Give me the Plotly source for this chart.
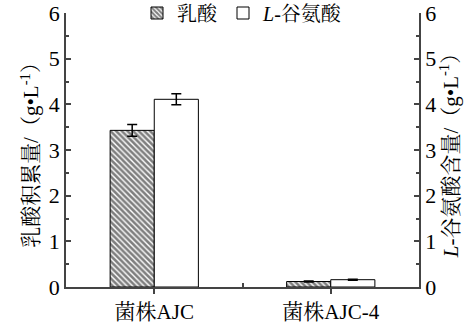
import plotly.graph_objects as go

categories = ["菌株AJC", "菌株AJC-4"]
lactic = [3.43, 0.12]
lactic_err = [0.13, 0.01]
glutamate = [4.11, 0.16]
glutamate_err = [0.12, 0.01]
y_ticks = [0, 1, 2, 3, 4, 5, 6]

FONT = "Liberation Serif, Noto Serif CJK SC, Noto Sans CJK SC, serif"
xpos = list(range(len(categories)))

fig = go.Figure()
fig.add_trace(go.Bar(
    x=xpos, y=lactic, name="乳酸", width=0.25, offset=-0.25,
    marker=dict(color="white", line=dict(color="black", width=1),
                pattern=dict(shape="\\", fgcolor="black", bgcolor="white",
                             size=4, solidity=0.65)),
    error_y=dict(type="data", array=lactic_err, color="black", thickness=1.5, width=5),
))
fig.add_trace(go.Bar(
    x=xpos, y=glutamate, name="<i>L</i>-谷氨酸", width=0.25, offset=0,
    marker=dict(color="white", line=dict(color="black", width=1)),
    error_y=dict(type="data", array=glutamate_err, color="black", thickness=1.5, width=5),
))
# invisible trace to activate the right axis
fig.add_trace(go.Scatter(x=xpos, y=glutamate, yaxis="y2", mode="markers",
                         marker=dict(opacity=0), showlegend=False, hoverinfo="skip"))

axis_common = dict(range=[0, 6], tickvals=y_ticks, ticks="inside", ticklen=5,
                   tickwidth=1.5, tickcolor="#444", showline=True, linecolor="#444",
                   linewidth=1.5, showgrid=False, zeroline=False, automargin=False,
                   tickfont=dict(family=FONT, size=22, color="black"),
                   minor=dict(dtick=0.5, ticks="inside", ticklen=3, tickcolor="#444", tickwidth=1.5))

fig.update_layout(
    width=476, height=332,
    margin=dict(l=66, r=57, t=13, b=45, autoexpand=False),
    paper_bgcolor="white", plot_bgcolor="white",
    barmode="overlay",
    font=dict(family=FONT, color="black"),
    xaxis=dict(range=[-0.5, 1.5], tickvals=xpos, ticktext=categories,
               ticks="outside", ticklen=5, tickwidth=1.5, tickcolor="#444",
               showline=True, linecolor="#444", linewidth=1.5, showgrid=False,
               zeroline=False, automargin=False,
               tickfont=dict(family=FONT, size=21, color="black"),
               minor=dict(tickvals=[0.5], ticks="inside", ticklen=4, tickcolor="#444", tickwidth=1.5)),
    yaxis=dict(**axis_common,
               title=dict(text="乳酸积累量/（g•L<sup>-1</sup>）", standoff=4,
                          font=dict(family=FONT, size=21, color="black"))),
    yaxis2=dict(**axis_common, overlaying="y", side="right",
                title=dict(text="<i>L</i>-谷氨酸含量/（g•L<sup>-1</sup>）", standoff=4,
                           font=dict(family=FONT, size=21, color="black"))),
    legend=dict(orientation="h", x=0.5, xanchor="center", y=1.0, yanchor="middle",
                font=dict(family=FONT, size=20, color="black"),
                bgcolor="rgba(0,0,0,0)", itemwidth=30, tracegroupgap=0),
    showlegend=True,
)

fig.write_html("out.html")
